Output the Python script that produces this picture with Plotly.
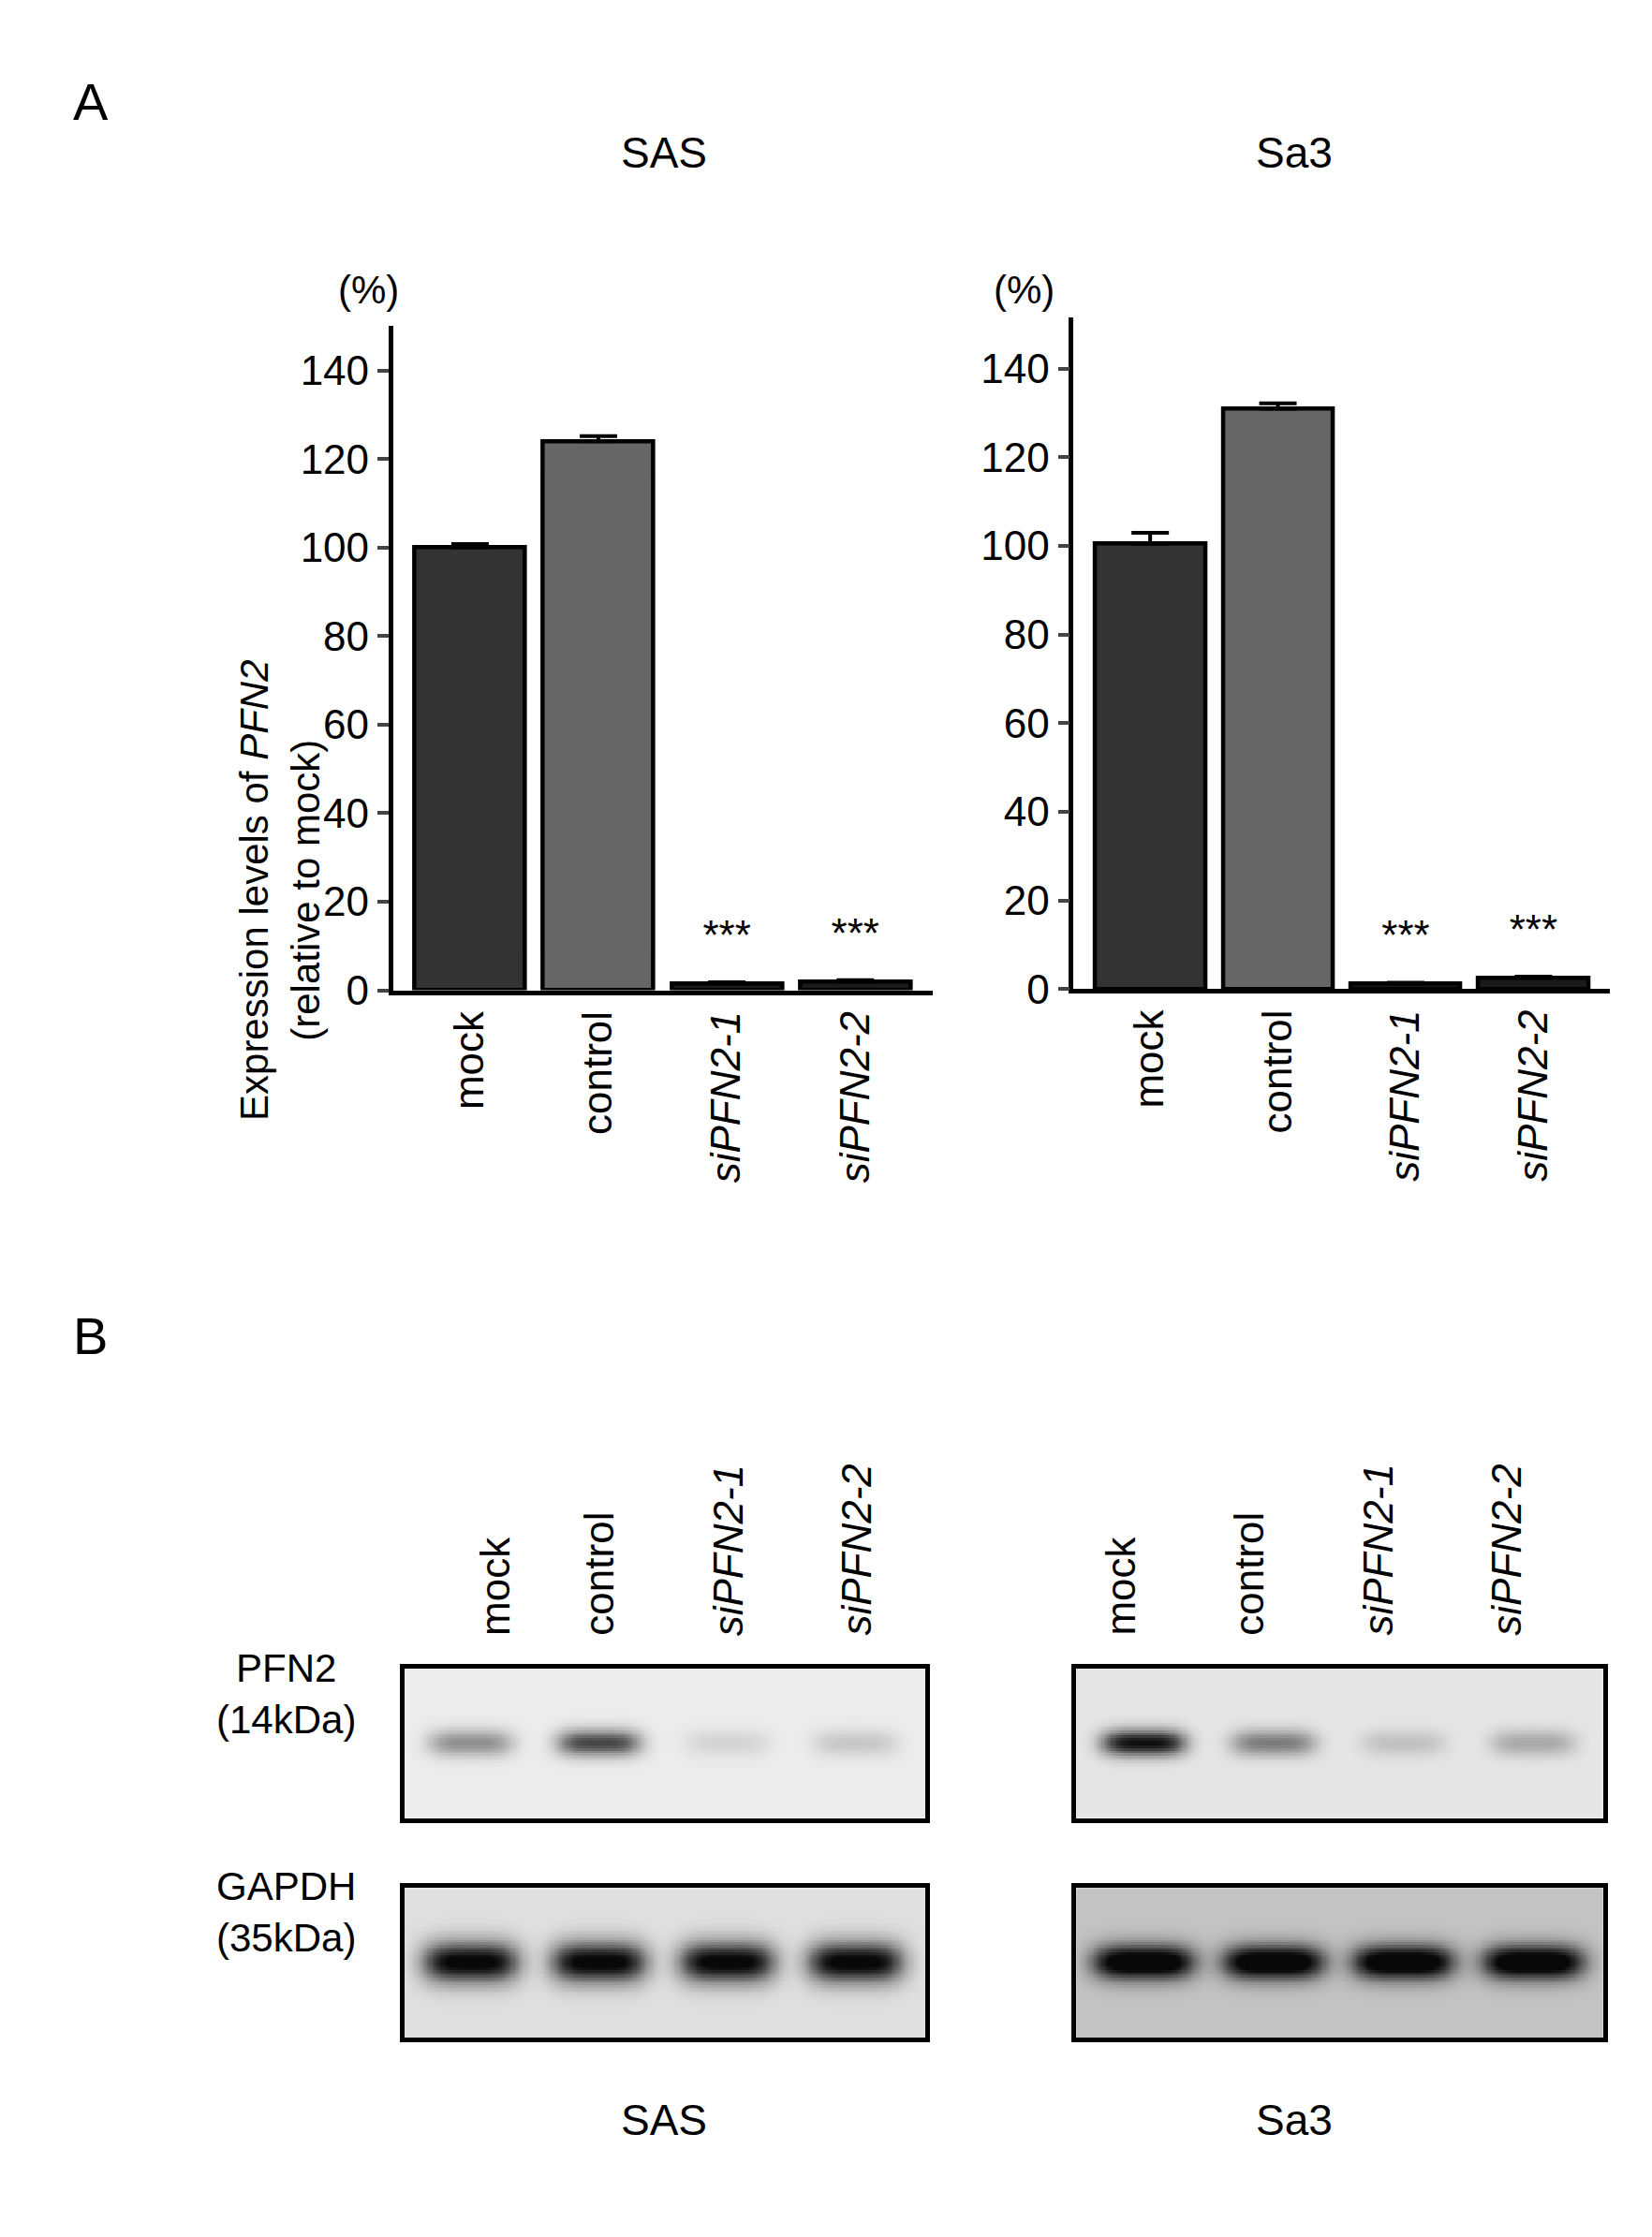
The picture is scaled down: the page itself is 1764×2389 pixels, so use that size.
import numpy as np
import plotly.graph_objects as go

# ---- data ----
lanes = ["mock", "control", "<i>siPFN2-1</i>", "<i>siPFN2-2</i>"]
sas_expr = [100.0, 124.0, 1.5, 2.0]
sas_err = [0.8, 1.2, 0.3, 0.3]
sa3_expr = [100.5, 131.0, 1.2, 2.5]
sa3_err = [2.5, 1.2, 0.2, 0.3]
stars = ["", "", "***", "***"]
bar_colors = ["#333333", "#666666", "#1a1a1a", "#1a1a1a"]

# western blot band intensities (0 = none, 1 = saturated)
sas_pfn2 = [0.45, 0.75, 0.12, 0.18]
sa3_pfn2 = [0.95, 0.5, 0.18, 0.3]
sas_gapdh = [1.0, 1.0, 1.0, 1.0]
sa3_gapdh = [1.0, 1.0, 1.0, 1.0]

W, H = 1764, 2389
FONT = "Liberation Sans, Arial, sans-serif"
fig = go.Figure()

def px(x):
    return x / 1170

def py(y):
    return 1 - y / 1584

# ---- panel A bar charts ----
charts = [(sas_expr, sas_err, "x", "y"), (sa3_expr, sa3_err, "x2", "y2")]
for vals, errs, xa, ya in charts:
    fig.add_trace(go.Bar(
        x=list(range(4)), y=vals, width=0.86, xaxis=xa, yaxis=ya,
        marker=dict(color=bar_colors, line=dict(color="black", width=4.5)),
        error_y=dict(type="data", array=errs, color="black", thickness=4, width=20, symmetric=False,
                     arrayminus=[0] * 4),
        showlegend=False))
    fig.add_trace(go.Scatter(
        x=list(range(4)), y=[v + 10 for v in vals], text=stars, mode="text",
        textfont=dict(size=44, color="black", family=FONT), xaxis=xa, yaxis=ya,
        showlegend=False))

axis_common = dict(showline=True, linecolor="black", linewidth=4.5, ticks="outside",
                   ticklen=12, tickwidth=4, tickfont=dict(size=44, family=FONT, color="black"),
                   showgrid=False, zeroline=False)
fig.update_layout(
    xaxis=dict(domain=[px(273), px(655)], range=[-0.6, 3.6], tickvals=list(range(4)),
               ticktext=lanes, tickangle=-90, anchor="y", **{**axis_common, "ticks": ""}),
    yaxis=dict(domain=[py(703), py(228)], range=[0, 150], tickvals=list(range(0, 141, 20)),
               anchor="x", **axis_common),
    xaxis2=dict(domain=[px(755), px(1135)], range=[-0.6, 3.6], tickvals=list(range(4)),
                ticktext=lanes, tickangle=-90, anchor="y2", **{**axis_common, "ticks": ""}),
    yaxis2=dict(domain=[py(702), py(222)], range=[0, 151.5], tickvals=list(range(0, 141, 20)),
                anchor="x2", **axis_common),
)

# ---- panel B blots ----
gx = np.linspace(-0.52, 3.54, 260)
gy = np.linspace(0, 1, 60)
XX, YY = np.meshgrid(gx, gy)

def blot(intens, bg, band_h, band_w):
    z = np.full(XX.shape, bg)
    for i, a in enumerate(intens):
        z += a * np.exp(-((XX - i) / band_w) ** 4) * np.exp(-((YY - 0.5) / band_h) ** 2)
    return np.clip(z, 0, 1)

blots = [
    (blot(sas_pfn2, 0.0, 0.09, 0.33), px(281), px(650), py(1295), py(1188)),
    (blot(sa3_pfn2, 0.03, 0.09, 0.33), px(757), px(1130), py(1295), py(1188)),
    (blot(sas_gapdh, 0.06, 0.14, 0.38), px(281), px(650), py(1452), py(1345)),
    (blot(sa3_gapdh, 0.2, 0.12, 0.40), px(757), px(1130), py(1452), py(1345)),
]
for k, (z, x0, x1, y0, y1) in enumerate(blots):
    n = k + 3
    fig.add_trace(go.Heatmap(x=gx, y=gy, z=z, zmin=0, zmax=1, showscale=False,
                             colorscale=[[0, "#ececec"], [0.4, "#9a9a9a"], [1, "#080808"]],
                             xaxis=f"x{n}", yaxis=f"y{n}", hoverinfo="skip"))
    box = dict(showline=True, mirror=True, linecolor="black", linewidth=4.5, showgrid=False,
               zeroline=False, ticks="", showticklabels=False)
    fig.layout[f"xaxis{n}"] = dict(domain=[x0, x1], range=[-0.52, 3.54], anchor=f"y{n}", **box)
    fig.layout[f"yaxis{n}"] = dict(domain=[y0, y1], range=[0, 1], anchor=f"x{n}", **box)

# ---- text ----
ann = []
def t(x, y, s, size=44, **kw):
    ann.append(dict(x=px(x), y=py(y), xref="paper", yref="paper", text=s, showarrow=False,
                    font=dict(size=size, family=FONT, color="black"), **kw))

t(45, 45, "A", 56)
t(45, 950, "B", 56)
t(465, 85, "SAS", 46)
t(940, 85, "Sa3", 46)
t(233, 185, "(%)", 42)
t(720, 185, "(%)", 42)
t(158, 465, "Expression levels of <i>PFN2</i><br>(relative to mock)", 42, textangle=-90)
t(248, 1242, "PFN2<br>(14kDa)", 42, xanchor="right")
t(248, 1398, "GAPDH<br>(35kDa)", 42, xanchor="right")
t(465, 1530, "SAS", 46)
t(940, 1530, "Sa3", 46)
for x0 in [328, 806]:
    for i, lab in enumerate(lanes):
        ann.append(dict(x=px(x0 + i * 91), y=py(1166), xref="paper", yref="paper", text=lab,
                        showarrow=False, textangle=-90, yanchor="bottom",
                        font=dict(size=44, family=FONT, color="black")))

fig.update_layout(width=W, height=H, margin=dict(l=0, r=0, t=0, b=0),
                  paper_bgcolor="white", plot_bgcolor="white", annotations=ann,
                  bargap=0)

fig.write_html("out.html")
